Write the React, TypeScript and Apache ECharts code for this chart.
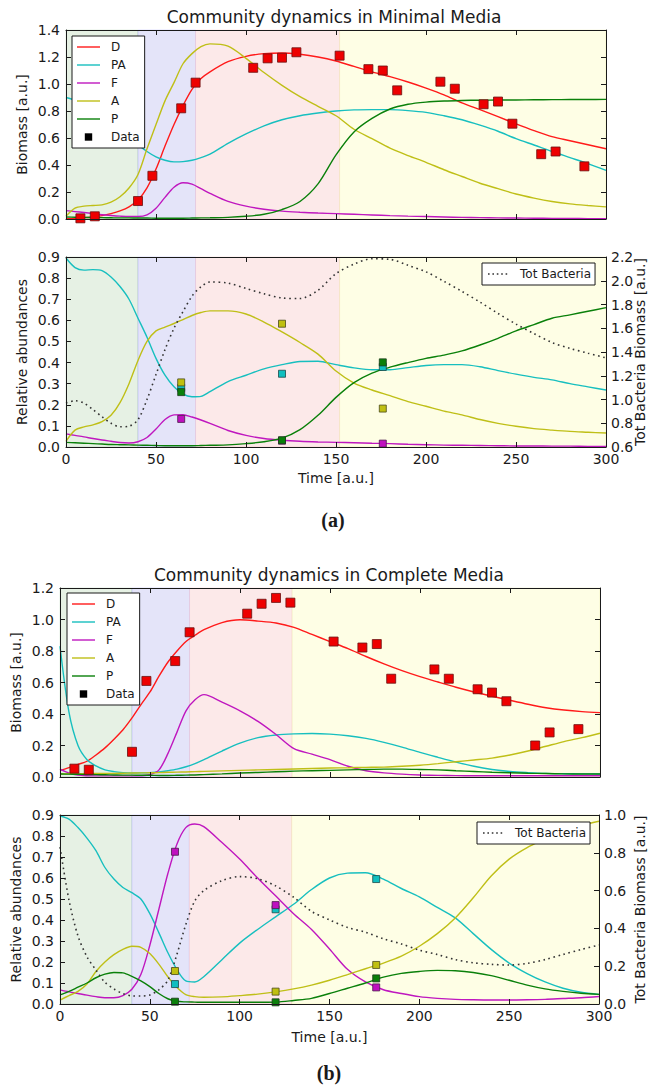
import React, { useEffect, useRef } from 'react';
import * as echarts from 'echarts';

// ---------- shared time grid for the model curves ----------
const T = [0,5,10,15,20,25,30,35,40,45,50,55,60,65,70,75,80,90,100,110,120,130,140,150,160,170,180,190,200,210,220,230,240,250,260,270,280,290,300];

// ---------- (a) Minimal media: biomass ----------
const D1 = [0.003,0.005,0.01,0.015,0.025,0.04,0.06,0.09,0.14,0.23,0.37,0.54,0.70,0.84,0.96,1.04,1.09,1.165,1.205,1.225,1.23,1.22,1.2,1.17,1.13,1.09,1.055,1.015,0.97,0.92,0.86,0.81,0.758,0.705,0.655,0.61,0.58,0.55,0.52];
const PA1 = [0.9,0.88,0.85,0.8,0.75,0.7,0.65,0.6,0.55,0.5,0.46,0.435,0.423,0.425,0.435,0.455,0.48,0.56,0.63,0.69,0.735,0.765,0.785,0.8,0.808,0.81,0.81,0.803,0.79,0.765,0.735,0.695,0.65,0.595,0.548,0.5,0.455,0.41,0.36];
const F1 = [0.062,0.055,0.048,0.04,0.032,0.026,0.021,0.018,0.018,0.03,0.08,0.16,0.235,0.268,0.258,0.225,0.19,0.13,0.095,0.072,0.058,0.05,0.044,0.04,0.035,0.03,0.025,0.021,0.018,0.015,0.012,0.01,0.008,0.007,0.006,0.005,0.004,0.003,0.003];
const A1 = [0.02,0.08,0.095,0.1,0.105,0.125,0.165,0.23,0.33,0.52,0.7,0.875,1.01,1.15,1.225,1.277,1.297,1.28,1.19,1.085,0.99,0.906,0.835,0.765,0.665,0.595,0.525,0.47,0.42,0.365,0.315,0.265,0.225,0.185,0.155,0.13,0.112,0.1,0.09];
const P1 = [0.015,0.013,0.012,0.011,0.01,0.009,0.008,0.008,0.007,0.007,0.006,0.006,0.006,0.006,0.007,0.008,0.009,0.012,0.02,0.035,0.07,0.13,0.26,0.475,0.645,0.745,0.815,0.85,0.866,0.874,0.878,0.88,0.881,0.882,0.883,0.884,0.885,0.885,0.886];
const obsT = [8,16,40,48,64,72,104,112,120,128,152,168,176,184,208,216,232,240,248,264,272,288];
const obsD1 = [0.005,0.02,0.133,0.32,0.82,1.01,1.12,1.19,1.195,1.235,1.21,1.11,1.1,0.953,1.017,0.965,0.85,0.87,0.706,0.48,0.5,0.39];

// ---------- (a) Minimal media: relative abundances ----------
const PA2 = [0.895,0.85,0.838,0.84,0.835,0.805,0.76,0.7,0.61,0.52,0.42,0.34,0.285,0.25,0.238,0.24,0.262,0.31,0.34,0.37,0.39,0.405,0.406,0.39,0.375,0.366,0.366,0.376,0.386,0.39,0.39,0.38,0.362,0.345,0.33,0.318,0.3,0.285,0.27];
const F2 = [0.062,0.055,0.048,0.04,0.033,0.027,0.021,0.019,0.025,0.045,0.085,0.13,0.152,0.153,0.142,0.128,0.112,0.078,0.055,0.04,0.032,0.027,0.024,0.022,0.02,0.018,0.016,0.013,0.011,0.009,0.008,0.007,0.006,0.005,0.005,0.004,0.004,0.003,0.003];
const A2 = [0.027,0.08,0.095,0.105,0.12,0.15,0.21,0.3,0.41,0.5,0.55,0.568,0.585,0.603,0.623,0.637,0.645,0.645,0.63,0.592,0.545,0.495,0.44,0.36,0.303,0.27,0.243,0.215,0.193,0.17,0.152,0.13,0.112,0.098,0.087,0.08,0.074,0.07,0.066];
const P2 = [0.022,0.02,0.018,0.016,0.014,0.012,0.011,0.01,0.009,0.008,0.007,0.006,0.006,0.006,0.006,0.007,0.008,0.01,0.016,0.025,0.042,0.082,0.15,0.235,0.305,0.35,0.378,0.4,0.42,0.435,0.455,0.483,0.515,0.55,0.58,0.61,0.626,0.643,0.66];
const TOT2 = [0.97,0.99,0.97,0.915,0.855,0.8,0.77,0.775,0.83,1.0,1.21,1.42,1.6,1.74,1.87,1.95,1.99,1.98,1.935,1.89,1.855,1.85,1.92,2.06,2.14,2.185,2.18,2.13,2.075,1.995,1.91,1.82,1.725,1.635,1.555,1.48,1.43,1.39,1.35];
const relT = [64,120,176];
const relPA2 = [0.28,0.347,0.379];
const relF2 = [0.133,0.03,0.016];
const relA2 = [0.306,0.584,0.182];
const relP2 = [0.26,0.032,0.401];

// ---------- (b) Complete media: biomass ----------
const D3 = [0.042,0.06,0.08,0.1,0.14,0.185,0.24,0.3,0.375,0.46,0.54,0.64,0.73,0.8,0.86,0.9,0.935,0.98,0.998,0.99,0.978,0.95,0.905,0.86,0.815,0.765,0.718,0.675,0.637,0.603,0.57,0.54,0.513,0.487,0.462,0.44,0.425,0.415,0.409];
const PA3 = [0.83,0.41,0.2,0.11,0.07,0.045,0.034,0.028,0.025,0.026,0.028,0.032,0.04,0.05,0.065,0.085,0.11,0.165,0.215,0.25,0.267,0.274,0.276,0.272,0.262,0.245,0.22,0.19,0.156,0.125,0.095,0.068,0.048,0.035,0.028,0.023,0.021,0.02,0.019];
const F3 = [0.05,0.025,0.012,0.008,0.007,0.007,0.007,0.007,0.007,0.008,0.015,0.045,0.15,0.285,0.42,0.49,0.523,0.475,0.42,0.353,0.27,0.18,0.145,0.11,0.068,0.04,0.026,0.018,0.013,0.01,0.009,0.008,0.008,0.008,0.008,0.008,0.008,0.008,0.008];
const A3 = [0.02,0.021,0.021,0.022,0.022,0.023,0.023,0.024,0.025,0.026,0.027,0.028,0.03,0.031,0.032,0.034,0.036,0.039,0.042,0.045,0.048,0.051,0.054,0.057,0.059,0.061,0.063,0.068,0.075,0.085,0.097,0.108,0.12,0.14,0.165,0.195,0.225,0.25,0.278];
const P3 = [0.019,0.018,0.017,0.016,0.015,0.014,0.013,0.012,0.012,0.011,0.011,0.01,0.01,0.011,0.012,0.013,0.015,0.02,0.025,0.029,0.033,0.037,0.04,0.042,0.045,0.048,0.05,0.05,0.048,0.045,0.04,0.035,0.03,0.027,0.024,0.022,0.02,0.019,0.019];
const obsD3 = [0.053,0.046,0.16,0.61,0.736,0.919,1.037,1.1,1.137,1.107,0.86,0.822,0.844,0.624,0.683,0.624,0.557,0.536,0.481,0.2,0.283,0.304];

// ---------- (b) Complete media: relative abundances ----------
const PA4 = [0.895,0.88,0.84,0.79,0.73,0.65,0.595,0.555,0.53,0.5,0.43,0.34,0.245,0.165,0.11,0.105,0.13,0.21,0.29,0.355,0.415,0.475,0.545,0.6,0.623,0.625,0.595,0.55,0.51,0.46,0.41,0.335,0.26,0.195,0.145,0.105,0.075,0.056,0.046];
const F4 = [0.067,0.058,0.05,0.042,0.035,0.03,0.03,0.04,0.07,0.14,0.28,0.45,0.62,0.76,0.84,0.857,0.845,0.77,0.69,0.6,0.515,0.43,0.355,0.262,0.165,0.105,0.068,0.05,0.035,0.027,0.022,0.02,0.019,0.019,0.02,0.022,0.026,0.03,0.036];
const A4 = [0.019,0.04,0.06,0.095,0.155,0.2,0.235,0.26,0.275,0.27,0.24,0.19,0.13,0.08,0.045,0.035,0.032,0.034,0.04,0.047,0.058,0.072,0.09,0.113,0.14,0.168,0.195,0.228,0.275,0.335,0.41,0.506,0.61,0.69,0.745,0.785,0.825,0.85,0.87];
const P4 = [0.043,0.06,0.08,0.1,0.125,0.142,0.15,0.148,0.132,0.11,0.083,0.05,0.025,0.013,0.01,0.009,0.008,0.008,0.008,0.008,0.009,0.017,0.027,0.05,0.075,0.1,0.128,0.146,0.155,0.16,0.158,0.15,0.135,0.113,0.09,0.072,0.06,0.051,0.046];
const TOT4 = [0.83,0.55,0.36,0.25,0.18,0.115,0.08,0.055,0.043,0.042,0.048,0.075,0.125,0.26,0.42,0.545,0.6,0.652,0.674,0.663,0.625,0.565,0.49,0.445,0.405,0.38,0.345,0.318,0.285,0.262,0.235,0.218,0.21,0.206,0.215,0.235,0.262,0.288,0.312];
const relPA4 = [0.095,0.451,0.595];
const relF4 = [0.725,0.471,0.079];
const relA4 = [0.157,0.059,0.186];
const relP4 = [0.011,0.008,0.122];

// ---------- background phases ----------
const phasesA = [[0,40],[40,72],[72,152],[152,300]];
const phasesB = [[0,40],[40,72],[72,129],[129,300]];

const FONT = 'DejaVu Sans';
const INK = '#1a1a1a';
const C = { D: '#ff1a1a', PA: '#17bfbf', F: '#bf17bf', A: '#bfbf17', P: '#0a800a', TOT: '#333333' };
const SHADE = ['#e6f1e4', '#e4e4f9', '#fce9e9', '#fefee5'];
const EDGE = ['rgba(0,128,0,0.10)', 'rgba(0,0,255,0.12)', 'rgba(255,0,0,0.08)', 'rgba(190,190,0,0.12)'];

const GRIDS = [
  { left: 66, top: 30, width: 540, height: 189 },
  { left: 66, top: 257, width: 540, height: 190 },
  { left: 60, top: 588, width: 540, height: 189 },
  { left: 60, top: 815, width: 539, height: 189 },
];

const pairs = (xs: number[], ys: number[]) => xs.map((x, i) => [x, ys[i]]);

// legend glyphs (bounding box 23x10 kept by two move-tos)
const LINE_ICON = 'path://M0,0M23,10M0,4.3h23v1.4h-23z';
const DOT_ICON = 'path://M0,0M22,10' + [0, 4.4, 8.8, 13.2, 17.6].map((x) => `M${x + 1},4.2h1.6v1.6h-1.6z`).join('');
const SQUARE_ICON = 'path://M0,0M23,10M7.8,1.3h7.4v7.4h-7.4z';

function buildOption() {
  const tick = { show: true, inside: true, length: 5, lineStyle: { color: INK, width: 1 } };
  const aline = { show: true, onZero: false, lineStyle: { color: INK, width: 1 } };
  const lbl = { fontFamily: FONT, fontSize: 14, color: INK };

  const xAxis: any[] = [];
  const yAxis: any[] = [];
  const yCfg = [
    { max: 1.4, interval: 0.2, name: 'Biomass [a.u.]', gap: 37, right: null as any },
    { max: 0.9, interval: 0.1, name: 'Relative abundances', gap: 37, right: { min: 0.6, max: 2.2, interval: 0.2, gap: 27 } },
    { max: 1.2, interval: 0.2, name: 'Biomass [a.u.]', gap: 37, right: null as any },
    { max: 0.9, interval: 0.1, name: 'Relative abundances', gap: 37, right: { min: 0, max: 1.0, interval: 0.2, gap: 34 } },
  ];
  GRIDS.forEach((g, gi) => {
    const showX = gi === 1 || gi === 3;
    xAxis.push({
      type: 'value', gridIndex: gi, min: 0, max: 300, interval: 50, position: 'bottom', z: 10,
      axisLine: aline, axisTick: tick, splitLine: { show: false },
      axisLabel: { show: showX, margin: 5, ...lbl },
      name: showX ? 'Time [a.u.]' : '', nameLocation: 'middle', nameGap: gi === 1 ? 24 : 26,
      nameMoveOverlap: false, nameTextStyle: lbl,
    });
    xAxis.push({
      type: 'value', gridIndex: gi, min: 0, max: 300, interval: 50, position: 'top', z: 10,
      axisLine: aline, axisTick: tick, splitLine: { show: false }, axisLabel: { show: false },
    });
    const c = yCfg[gi];
    yAxis.push({
      type: 'value', gridIndex: gi, min: 0, max: c.max, interval: c.interval, position: 'left', z: 10,
      axisLine: aline, axisTick: tick, splitLine: { show: false },
      axisLabel: { margin: 6, ...lbl, formatter: (v: number) => v.toFixed(1) },
      name: c.name, nameLocation: 'middle', nameGap: c.gap, nameMoveOverlap: false, nameTextStyle: lbl,
    });
    if (c.right) {
      yAxis.push({
        type: 'value', gridIndex: gi, min: c.right.min, max: c.right.max, interval: c.right.interval,
        position: 'right', z: 10, axisLine: aline, axisTick: tick, splitLine: { show: false },
        axisLabel: { margin: 5, ...lbl, formatter: (v: number) => v.toFixed(1) },
        name: 'Tot Bacteria Biomass [a.u.]', nameLocation: 'middle', nameRotate: 90,
        nameGap: c.right.gap, nameMoveOverlap: false, nameTextStyle: lbl,
      });
    } else {
      yAxis.push({
        type: 'value', gridIndex: gi, min: 0, max: c.max, interval: c.interval, position: 'right', z: 10,
        axisLine: aline, axisTick: tick, splitLine: { show: false }, axisLabel: { show: false },
      });
    }
  });

  const series: any[] = [];
  const shade = (gi: number, phases: number[][]) => ({
    type: 'line', xAxisIndex: gi * 2, yAxisIndex: gi * 2, data: [], silent: true, z: 1,
    markArea: {
      silent: true,
      data: phases.map((p, k) => [
        { xAxis: p[0], itemStyle: { color: SHADE[k], borderColor: EDGE[k], borderWidth: 1 } },
        { xAxis: p[1] },
      ]),
    },
  });
  const line = (name: string, gi: number, ys: number[], color: string, right = false, dotted = false) => ({
    type: 'line', name, xAxisIndex: gi * 2, yAxisIndex: gi * 2 + (right ? 1 : 0),
    data: pairs(T, ys), smooth: 0.3, symbol: 'none', silent: true, z: 3,
    lineStyle: { color, width: dotted ? 1.6 : 1.4, type: dotted ? [1.6, 3.6] : 'solid' },
    itemStyle: { color },
  });
  const obs = (name: string, gi: number, xs: number[], ys: number[], color: string, size: number, edge: string) => ({
    type: 'scatter', name, xAxisIndex: gi * 2, yAxisIndex: gi * 2, data: pairs(xs, ys),
    symbol: 'rect', symbolSize: size, silent: true, z: 5,
    itemStyle: { color, borderColor: edge, borderWidth: 0.8, opacity: 1 },
  });

  // panel 1
  series.push(shade(0, phasesA));
  series.push(line('D', 0, D1, C.D), line('PA', 0, PA1, C.PA), line('F', 0, F1, C.F), line('A', 0, A1, C.A), line('P', 0, P1, C.P));
  series.push(obs('Data', 0, obsT, obsD1, '#ee0000', 9, '#6a1010'));
  // panel 2
  series.push(shade(1, phasesA));
  series.push(line('PA', 1, PA2, C.PA), line('F', 1, F2, C.F), line('A', 1, A2, C.A), line('P', 1, P2, C.P));
  series.push(line('Tot Bacteria', 1, TOT2, C.TOT, true, true));
  series.push(obs('PA obs', 1, relT, relPA2, '#10bfbf', 7, '#1a4a4a'), obs('A obs', 1, relT, relA2, '#bfbf10', 7, '#4a4a1a'),
    obs('F obs', 1, relT, relF2, '#bf10bf', 7, '#4a1a4a'), obs('P obs', 1, relT, relP2, '#0a800a', 7, '#1a3a1a'));
  // panel 3
  series.push(shade(2, phasesB));
  series.push(line('D', 2, D3, C.D), line('PA', 2, PA3, C.PA), line('F', 2, F3, C.F), line('A', 2, A3, C.A), line('P', 2, P3, C.P));
  series.push(obs('Data', 2, obsT, obsD3, '#ee0000', 9, '#6a1010'));
  // panel 4
  series.push(shade(3, phasesB));
  series.push(line('PA', 3, PA4, C.PA), line('F', 3, F4, C.F), line('A', 3, A4, C.A), line('P', 3, P4, C.P));
  series.push(line('Tot Bacteria', 3, TOT4, C.TOT, true, true));
  series.push(obs('PA obs', 3, relT, relPA4, '#10bfbf', 7, '#1a4a4a'), obs('A obs', 3, relT, relA4, '#bfbf10', 7, '#4a4a1a'),
    obs('P obs', 3, relT, relP4, '#0a800a', 7, '#1a3a1a'), obs('F obs', 3, relT, relF4, '#bf10bf', 7, '#4a1a4a'));

  const legBase = {
    itemWidth: 23, itemHeight: 10, itemGap: 6, selectedMode: false,
    borderColor: INK, borderWidth: 1, borderRadius: 0, backgroundColor: '#fff',
    textStyle: { fontFamily: FONT, fontSize: 12, color: INK, padding: [0, 0, 0, 6] },
  };
  const lineItem = (n: string, color: string) => ({ name: n, icon: LINE_ICON, itemStyle: { color, borderWidth: 0 } });
  const mainItems = [lineItem('D', C.D), lineItem('PA', C.PA), lineItem('F', C.F), lineItem('A', C.A), lineItem('P', C.P),
    { name: 'Data', icon: SQUARE_ICON, itemStyle: { color: '#000', borderWidth: 0 } }];
  const totItem = [{ name: 'Tot Bacteria', icon: DOT_ICON, itemStyle: { color: '#333', borderWidth: 0 } }];
  const legend = [
    { ...legBase, orient: 'vertical', left: 72, top: 36, padding: [5, 5, 5, 5], data: mainItems },
    { ...legBase, orient: 'horizontal', left: 482, top: 263, padding: [5, 4, 5, 5], itemWidth: 22, data: totItem },
    { ...legBase, orient: 'vertical', left: 67, top: 593, padding: [5, 5, 5, 5], data: mainItems },
    { ...legBase, orient: 'horizontal', left: 477, top: 822, padding: [5, 4, 5, 5], itemWidth: 22, data: totItem },
  ];

  const txt = (text: string, x: number, y: number, font: string) => ({
    type: 'text', x, y, silent: true,
    style: { text, font, fill: INK, align: 'center', verticalAlign: 'middle' },
  });

  return {
    animation: false,
    backgroundColor: '#ffffff',
    grid: GRIDS.map((g) => ({ ...g, containLabel: false, outerBoundsMode: 'none' })),
    xAxis, yAxis, series, legend,
    graphic: [
      txt('Community dynamics in Minimal Media', 334, 17, `17px "${FONT}"`),
      txt('Community dynamics in Complete Media', 329, 575, `17px "${FONT}"`),
      txt('(a)', 333, 520, 'bold 20px "Liberation Serif", serif'),
      txt('(b)', 329, 1073, 'bold 20px "Liberation Serif", serif'),
    ],
  };
}

export default function App() {
  const ref = useRef<HTMLDivElement>(null);
  useEffect(() => {
    if (!ref.current) return;
    const chart = echarts.init(ref.current, null, { renderer: 'svg', width: 652, height: 1086 });
    chart.setOption(buildOption() as any);
    return () => chart.dispose();
  }, []);
  return (
    <div
      ref={ref}
      style={{ position: 'absolute', left: 0, top: 0, width: 652, height: 1086, background: '#fff' }}
    />
  );
}
